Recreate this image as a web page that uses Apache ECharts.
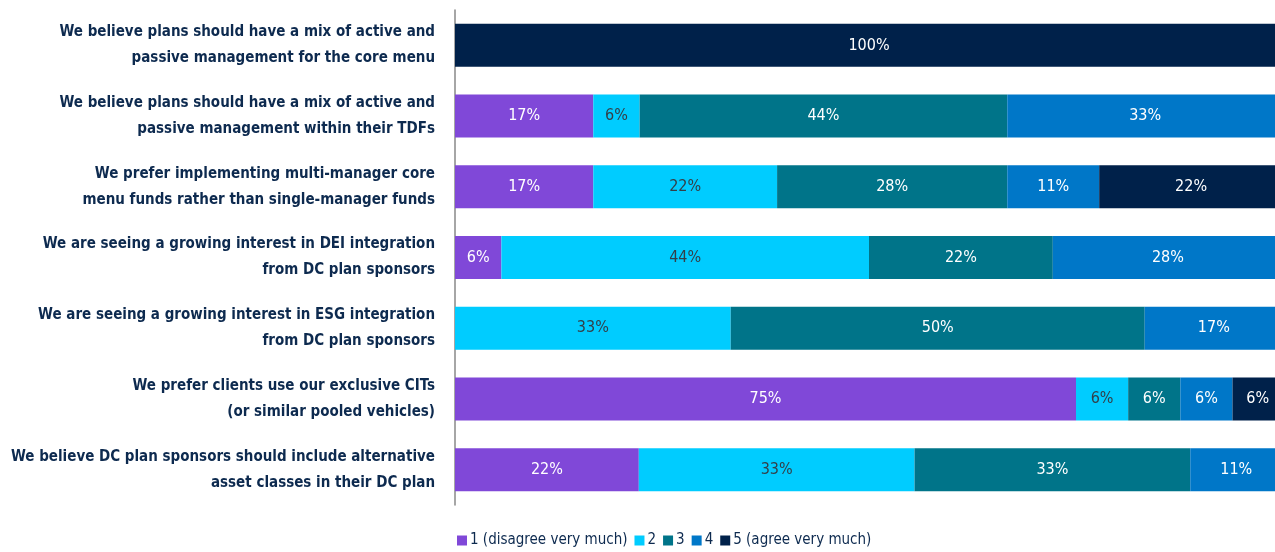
<!DOCTYPE html>
<html>
<head>
<meta charset="utf-8">
<script src="https://cdn.jsdelivr.net/npm/echarts@6/dist/echarts.min.js"></script>
<style>
  html, body { margin: 0; padding: 0; background: #fff; }
  #chart { width: 1275px; height: 552px; }
</style>
</head>
<body>
<div id="chart"></div>
<script>
// 分类（从上到下）
var categories = [
  'We believe plans should have a mix of active and\npassive management for the core menu',
  'We believe plans should have a mix of active and\npassive management within their TDFs',
  'We prefer implementing multi-manager core\nmenu funds rather than single-manager funds',
  'We are seeing a growing interest in DEI integration\nfrom DC plan sponsors',
  'We are seeing a growing interest in ESG integration\nfrom DC plan sponsors',
  'We prefer clients use our exclusive CITs\n(or similar pooled vehicles)',
  'We believe DC plan sponsors should include alternative\nasset classes in their DC plan'
];
var seriesNames = ['1 (disagree very much)', '2', '3', '4', '5 (agree very much)'];
var colors = ['#8048d8', '#00ccff', '#007489', '#0077c8', '#00214a'];
// 每个等级的百分比
var level1 = [0, 16.7, 16.7, 5.6, 0, 75, 22.2];
var level2 = [0, 5.6, 22.2, 44.4, 33.3, 6.3, 33.3];
var level3 = [0, 44.4, 27.8, 22.2, 50, 6.3, 33.3];
var level4 = [0, 33.3, 11.1, 27.8, 16.7, 6.3, 11.1];
var level5 = [100, 0, 22.2, 0, 0, 6.3, 0];
var levels = [level1, level2, level3, level4, level5];

var font = '"DejaVu Sans Condensed", "Liberation Sans Narrow", sans-serif';
var chart = echarts.init(document.getElementById('chart'));

var series = levels.map(function (data, i) {
  return {
    name: seriesNames[i],
    type: 'bar',
    stack: 'total',
    barWidth: 43,
    data: data,
    itemStyle: { color: colors[i] },
    label: {
      show: true,
      position: 'inside',
      color: i === 1 ? '#333f48' : '#fff',
      fontFamily: font,
      fontSize: 16,
      formatter: function (p) {
        return p.value > 0 ? Math.round(p.value) + '%' : '';
      }
    }
  };
});

chart.setOption({
  animation: false,
  textStyle: { fontFamily: font },
  color: colors,
  grid: { left: 455, top: 10, bottom: 47, width: 828, containLabel: false, outerBoundsMode: 'none' },
  legend: {
    top: 531,
    left: 452,
    padding: [2, 5],
    itemWidth: 10,
    itemHeight: 10,
    itemGap: 7,
    icon: 'rect',
    textStyle: { color: '#0d2a4f', fontSize: 15, fontFamily: font, padding: [0, 0, 0, -2] },
    data: seriesNames
  },
  xAxis: {
    type: 'value',
    min: 0,
    max: 100,
    show: false
  },
  yAxis: {
    type: 'category',
    inverse: true,
    data: categories,
    axisLine: { show: true, lineStyle: { color: '#888', width: 1.5 } },
    axisTick: { show: false },
    axisLabel: {
      color: '#0d2a4f',
      fontSize: 15,
      fontWeight: 'bold',
      lineHeight: 26,
      margin: 20,
      align: 'right',
      fontFamily: font
    }
  },
  series: series
});
</script>
</body>
</html>
